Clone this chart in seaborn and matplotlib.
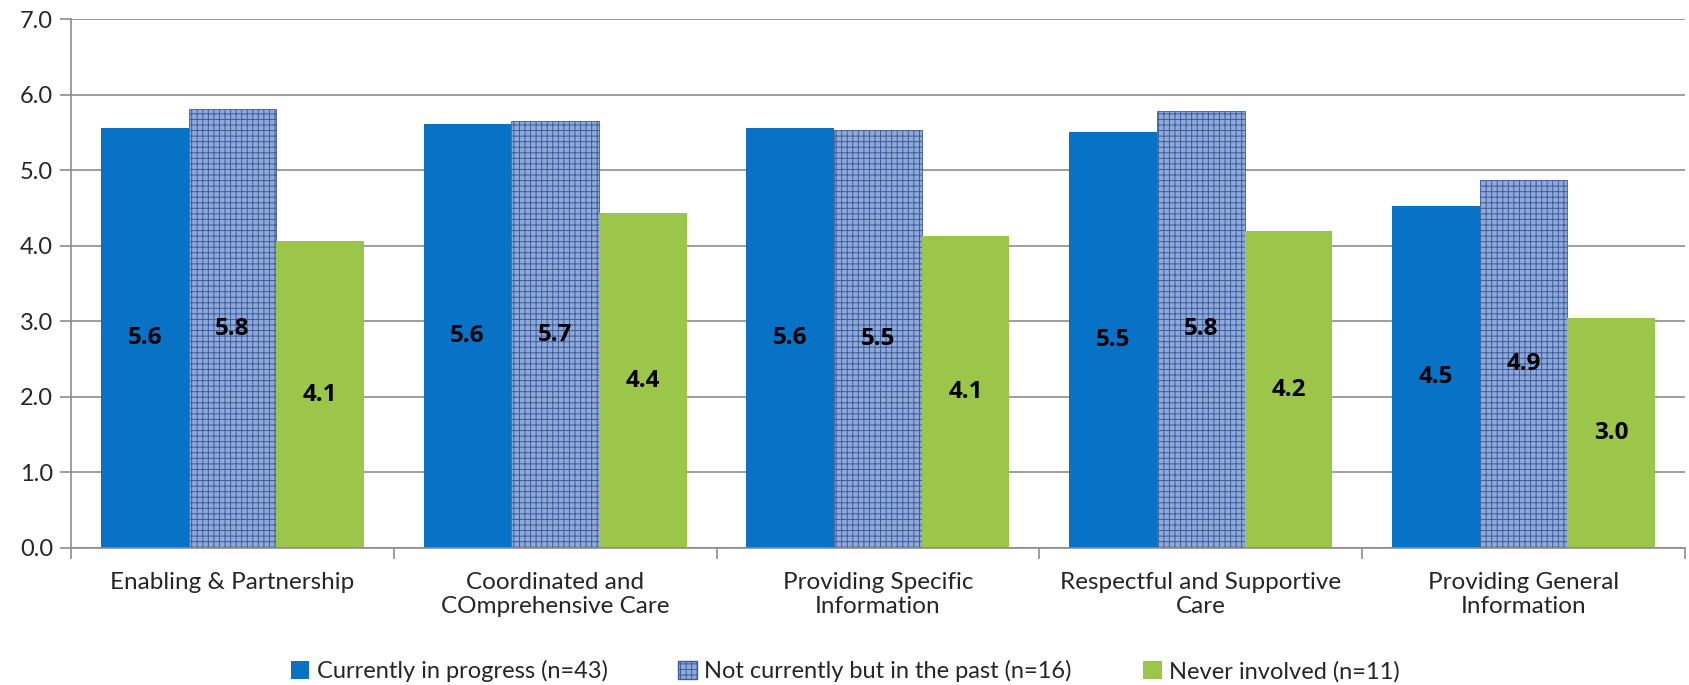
import numpy as np
import pandas as pd
import matplotlib.pyplot as plt
import seaborn as sns

# Data
categories = ["Enabling & Partnership", "Coordinated and\nCOmprehensive Care",
              "Providing Specific\nInformation", "Respectful and Supportive\nCare",
              "Providing General\nInformation"]
series = ["Currently in progress (n=43)", "Not currently but in the past (n=16)",
          "Never involved (n=11)"]
current = [5.56, 5.61, 5.56, 5.51, 4.53]
past = [5.81, 5.65, 5.53, 5.79, 4.87]
never = [4.06, 4.43, 4.13, 4.19, 3.04]
yticks = [0, 1, 2, 3, 4, 5, 6, 7]

df = pd.DataFrame({
    "Category": categories * 3,
    "Group": [series[0]] * 5 + [series[1]] * 5 + [series[2]] * 5,
    "Score": current + past + never,
})

sns.set_style("white")
plt.rcParams["font.family"] = ["Lato", "DejaVu Sans"]
plt.rcParams["hatch.linewidth"] = 0.7

colors = ["#0872c6", "#8fa9da", "#9cc64a"]
hatch_col = "#3d5c98"

fig = plt.figure(figsize=(16.9, 6.85), dpi=100)
ax = fig.add_axes([0.042, 0.2, 0.955, 0.772])

sns.barplot(data=df, x="Category", y="Score", hue="Group", order=categories,
            hue_order=series, palette=colors, width=0.815, saturation=1,
            errorbar=None, ax=ax, legend=False)

# styling per series
for i, cont in enumerate(ax.containers):
    for bar in cont:
        if i == 1:
            bar.set_hatch("+++")
            bar.set_edgecolor(hatch_col)
            bar.set_linewidth(0.6)
        else:
            bar.set_edgecolor("none")
    ax.bar_label(cont, labels=[f"{v:.1f}" for v in cont.datavalues],
                 label_type="center", fontsize=17.5, fontweight="bold",
                 family=["Open Sans", "DejaVu Sans"], color="black")

ax.set_ylim(0, 7)
ax.set_xlim(-0.5, 4.5)
ax.set_yticks(yticks)
ax.set_yticklabels([f"{v:.1f}" for v in yticks], fontsize=17)
ax.yaxis.grid(True, color="#8c8c8c", linewidth=1.2)
ax.set_axisbelow(True)
ax.set_xlabel("")
ax.set_ylabel("")
ax.set_xticks(range(5))
ax.set_xticklabels(categories, fontsize=17.5)
ax.tick_params(axis="x", length=0, pad=17)
ax.tick_params(axis="y", length=8, color="#8c8c8c", width=1.2, left=True, pad=5)
ax.set_xticks(np.arange(-0.5, 5, 1), minor=True)
ax.tick_params(axis="x", which="minor", length=8, color="#8c8c8c", width=1.2, bottom=True)
for s in ["top", "right"]:
    ax.spines[s].set_visible(False)
for s in ["left", "bottom"]:
    ax.spines[s].set_color("#8c8c8c")
    ax.spines[s].set_linewidth(1.2)

handles = [plt.Rectangle((0, 0), 1, 1, facecolor=c, edgecolor=hatch_col if i == 1 else "none",
                         hatch="+++" if i == 1 else None) for i, c in enumerate(colors)]
fig.legend(handles, series, loc="center", bbox_to_anchor=(0.5, 0.02), ncol=3,
           frameon=False, fontsize=17, handlelength=0.8, handleheight=0.8,
           handletextpad=0.3, columnspacing=3.0)

plt.savefig("out.png", dpi=100)
